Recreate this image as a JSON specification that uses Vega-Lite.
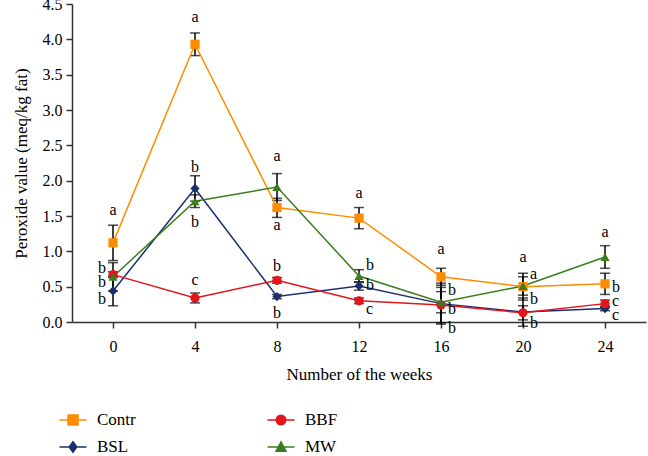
{
  "$schema": "https://vega.github.io/schema/vega-lite/v6.json",
  "autosize": {"type": "none"},
  "width": 574,
  "height": 318,
  "padding": {"left": 72, "top": 4, "right": 2, "bottom": 134},
  "background": "white",
  "config": {
    "view": {"stroke": null},
    "font": "Liberation Serif",
    "axis": {"labelFont": "Liberation Serif", "titleFont": "Liberation Serif", "labelFontSize": 16, "titleFontSize": 17, "titleFontWeight": "normal", "labelColor": "#000", "titleColor": "#000", "domainColor": "#333", "domainWidth": 1.5, "tickColor": "#333", "tickWidth": 1.5, "tickSize": 6, "grid": false, "labelOverlap": false},
    "legend": {"labelFont": "Liberation Serif", "labelFontSize": 17, "labelColor": "#000", "orient": "none", "title": null, "symbolSize": 400, "symbolStrokeWidth": 1.5, "symbolOpacity": 1, "labelOffset": 13}
  },
  "datasets": {
    "series": [
      {"week": 0, "group": "Contr", "value": 1.12, "lo": 0.87, "hi": 1.37},
      {"week": 4, "group": "Contr", "value": 3.93, "lo": 3.77, "hi": 4.09},
      {"week": 8, "group": "Contr", "value": 1.62, "lo": 1.48, "hi": 1.75},
      {"week": 12, "group": "Contr", "value": 1.47, "lo": 1.32, "hi": 1.62},
      {"week": 16, "group": "Contr", "value": 0.64, "lo": 0.52, "hi": 0.76},
      {"week": 20, "group": "Contr", "value": 0.50, "lo": 0.31, "hi": 0.69},
      {"week": 24, "group": "Contr", "value": 0.54, "lo": 0.39, "hi": 0.69},
      {"week": 0, "group": "BSL", "value": 0.44, "lo": 0.23, "hi": 0.65},
      {"week": 4, "group": "BSL", "value": 1.89, "lo": 1.71, "hi": 2.07},
      {"week": 8, "group": "BSL", "value": 0.36, "lo": 0.33, "hi": 0.39},
      {"week": 12, "group": "BSL", "value": 0.51, "lo": 0.45, "hi": 0.57},
      {"week": 16, "group": "BSL", "value": 0.26, "lo": -0.03, "hi": 0.55},
      {"week": 20, "group": "BSL", "value": 0.14, "lo": -0.06, "hi": 0.34},
      {"week": 24, "group": "BSL", "value": 0.19, "lo": 0.16, "hi": 0.22},
      {"week": 0, "group": "BBF", "value": 0.67, "lo": 0.63, "hi": 0.71},
      {"week": 4, "group": "BBF", "value": 0.34, "lo": 0.27, "hi": 0.41},
      {"week": 8, "group": "BBF", "value": 0.59, "lo": 0.55, "hi": 0.63},
      {"week": 12, "group": "BBF", "value": 0.30, "lo": 0.26, "hi": 0.34},
      {"week": 16, "group": "BBF", "value": 0.24, "lo": -0.01, "hi": 0.49},
      {"week": 20, "group": "BBF", "value": 0.13, "lo": 0.03, "hi": 0.23},
      {"week": 24, "group": "BBF", "value": 0.26, "lo": 0.21, "hi": 0.31},
      {"week": 0, "group": "MW", "value": 0.64, "lo": 0.44, "hi": 0.84},
      {"week": 4, "group": "MW", "value": 1.71, "lo": 1.62, "hi": 1.80},
      {"week": 8, "group": "MW", "value": 1.91, "lo": 1.72, "hi": 2.10},
      {"week": 12, "group": "MW", "value": 0.65, "lo": 0.56, "hi": 0.74},
      {"week": 16, "group": "MW", "value": 0.28, "lo": 0.13, "hi": 0.43},
      {"week": 20, "group": "MW", "value": 0.51, "lo": 0.38, "hi": 0.64},
      {"week": 24, "group": "MW", "value": 0.92, "lo": 0.76, "hi": 1.08}
    ],
    "labels": [
      {"week": 0, "pos": 1.59, "letter": "a", "side": "center"},
      {"week": 4, "pos": 4.32, "letter": "a", "side": "center"},
      {"week": 4, "pos": 2.20, "letter": "b", "side": "center"},
      {"week": 4, "pos": 1.42, "letter": "b", "side": "center"},
      {"week": 4, "pos": 0.60, "letter": "c", "side": "center"},
      {"week": 8, "pos": 2.35, "letter": "a", "side": "center"},
      {"week": 8, "pos": 1.37, "letter": "a", "side": "center"},
      {"week": 8, "pos": 0.79, "letter": "b", "side": "center"},
      {"week": 8, "pos": 0.13, "letter": "b", "side": "center"},
      {"week": 12, "pos": 1.83, "letter": "a", "side": "center"},
      {"week": 16, "pos": 1.04, "letter": "a", "side": "center"},
      {"week": 20, "pos": 0.92, "letter": "a", "side": "center"},
      {"week": 24, "pos": 1.27, "letter": "a", "side": "center"},
      {"week": 0, "pos": 0.76, "letter": "b", "side": "left"},
      {"week": 0, "pos": 0.56, "letter": "b", "side": "left"},
      {"week": 0, "pos": 0.32, "letter": "b", "side": "left"},
      {"week": 12, "pos": 0.80, "letter": "b", "side": "right"},
      {"week": 12, "pos": 0.52, "letter": "b", "side": "right"},
      {"week": 12, "pos": 0.19, "letter": "c", "side": "right"},
      {"week": 16, "pos": 0.45, "letter": "b", "side": "right"},
      {"week": 16, "pos": 0.18, "letter": "b", "side": "right"},
      {"week": 16, "pos": -0.09, "letter": "b", "side": "right"},
      {"week": 20, "pos": 0.68, "letter": "a", "side": "right"},
      {"week": 20, "pos": 0.32, "letter": "b", "side": "right"},
      {"week": 20, "pos": -0.01, "letter": "b", "side": "right"},
      {"week": 24, "pos": 0.49, "letter": "b", "side": "right"},
      {"week": 24, "pos": 0.30, "letter": "c", "side": "right"},
      {"week": 24, "pos": 0.10, "letter": "c", "side": "right"}
    ]
  },
  "encoding": {
    "x": {"field": "week", "type": "quantitative", "scale": {"domain": [-2, 26], "nice": false}, "axis": {"values": [0, 4, 8, 12, 16, 20, 24], "title": "Number of the weeks", "labelPadding": 10, "titlePadding": 12}}
  },
  "resolve": {"scale": {"shape": "independent"}, "legend": {"shape": "independent"}},
  "layer": [
    {
      "data": {"name": "series"},
      "mark": {"type": "rule", "color": "#000", "strokeWidth": 1.5},
      "encoding": {
        "y": {"field": "lo", "type": "quantitative", "scale": {"domain": [0, 4.5], "nice": false}, "axis": {"values": [0, 0.5, 1, 1.5, 2, 2.5, 3, 3.5, 4, 4.5], "format": ".1f", "title": "Peroxide value (meq/kg fat)", "labelPadding": 4, "titlePadding": 12}},
        "y2": {"field": "hi"}
      }
    },
    {
      "data": {"name": "series"},
      "mark": {"type": "tick", "orient": "horizontal", "color": "#000", "size": 10, "thickness": 1.5},
      "encoding": {"y": {"field": "lo", "type": "quantitative", "axis": {"values": [0, 0.5, 1, 1.5, 2, 2.5, 3, 3.5, 4, 4.5], "format": ".1f", "title": "Peroxide value (meq/kg fat)", "labelPadding": 4, "titlePadding": 12}}}
    },
    {
      "data": {"name": "series"},
      "mark": {"type": "tick", "orient": "horizontal", "color": "#000", "size": 10, "thickness": 1.5},
      "encoding": {"y": {"field": "hi", "type": "quantitative", "axis": {"values": [0, 0.5, 1, 1.5, 2, 2.5, 3, 3.5, 4, 4.5], "format": ".1f", "title": "Peroxide value (meq/kg fat)", "labelPadding": 4, "titlePadding": 12}}}
    },
    {
      "data": {"name": "series"},
      "mark": {"type": "line", "strokeWidth": 1.5},
      "encoding": {
        "y": {"field": "value", "type": "quantitative", "axis": {"values": [0, 0.5, 1, 1.5, 2, 2.5, 3, 3.5, 4, 4.5], "format": ".1f", "title": "Peroxide value (meq/kg fat)", "labelPadding": 4, "titlePadding": 12}},
        "color": {"field": "group", "type": "nominal", "scale": {"domain": ["Contr", "BSL", "BBF", "MW"], "range": ["#FF8C00", "#1A2E6E", "#E3151B", "#3A7D1E"]}, "legend": null}
      }
    },
    {
      "data": {"name": "series"},
      "mark": {"type": "point", "filled": true, "opacity": 1, "size": 85},
      "encoding": {
        "y": {"field": "value", "type": "quantitative", "axis": {"values": [0, 0.5, 1, 1.5, 2, 2.5, 3, 3.5, 4, 4.5], "format": ".1f", "title": "Peroxide value (meq/kg fat)", "labelPadding": 4, "titlePadding": 12}},
        "color": {"field": "group", "type": "nominal", "legend": null},
        "shape": {"field": "group", "type": "nominal", "scale": {"domain": ["Contr", "BSL", "BBF", "MW"], "range": ["square", "diamond", "circle", "triangle-up"]}, "legend": null}
      }
    },
    {
      "data": {"name": "series"},
      "transform": [{"filter": "datum.group === 'Contr'"}],
      "mark": {"type": "point", "filled": true, "opacity": 0, "size": 10, "color": "#FF8C00", "fill": "#FF8C00", "stroke": "#FF8C00", "strokeWidth": 1.5},
      "encoding": {
        "y": {"field": "value", "type": "quantitative", "axis": {"values": [0, 0.5, 1, 1.5, 2, 2.5, 3, 3.5, 4, 4.5], "format": ".1f", "title": "Peroxide value (meq/kg fat)", "labelPadding": 4, "titlePadding": 12}},
        "shape": {"field": "group", "type": "nominal", "scale": {"domain": ["Contr"], "range": ["M-1.35,0L1.35,0M-0.5,-0.5L0.5,-0.5L0.5,0.5L-0.5,0.5Z"]},
          "legend": {"legendX": -10, "legendY": 405}}
      }
    },
    {
      "data": {"name": "series"},
      "transform": [{"filter": "datum.group === 'BSL'"}],
      "mark": {"type": "point", "filled": true, "opacity": 0, "size": 10, "color": "#1A2E6E", "fill": "#1A2E6E", "stroke": "#1A2E6E", "strokeWidth": 1.5},
      "encoding": {
        "y": {"field": "value", "type": "quantitative", "axis": {"values": [0, 0.5, 1, 1.5, 2, 2.5, 3, 3.5, 4, 4.5], "format": ".1f", "title": "Peroxide value (meq/kg fat)", "labelPadding": 4, "titlePadding": 12}},
        "shape": {"field": "group", "type": "nominal", "scale": {"domain": ["BSL"], "range": ["M-1.35,0L1.35,0M0,-0.52L0.38,0L0,0.52L-0.38,0Z"]},
          "legend": {"legendX": -10, "legendY": 432}}
      }
    },
    {
      "data": {"name": "series"},
      "transform": [{"filter": "datum.group === 'BBF'"}],
      "mark": {"type": "point", "filled": true, "opacity": 0, "size": 10, "color": "#E3151B", "fill": "#E3151B", "stroke": "#E3151B", "strokeWidth": 1.5},
      "encoding": {
        "y": {"field": "value", "type": "quantitative", "axis": {"values": [0, 0.5, 1, 1.5, 2, 2.5, 3, 3.5, 4, 4.5], "format": ".1f", "title": "Peroxide value (meq/kg fat)", "labelPadding": 4, "titlePadding": 12}},
        "shape": {"field": "group", "type": "nominal", "scale": {"domain": ["BBF"], "range": ["M-1.35,0L1.35,0M-0.48,0A0.48,0.48 0 1,0 0.48,0A0.48,0.48 0 1,0 -0.48,0Z"]},
          "legend": {"legendX": 198, "legendY": 405}}
      }
    },
    {
      "data": {"name": "series"},
      "transform": [{"filter": "datum.group === 'MW'"}],
      "mark": {"type": "point", "filled": true, "opacity": 0, "size": 10, "color": "#3A7D1E", "fill": "#3A7D1E", "stroke": "#3A7D1E", "strokeWidth": 1.5},
      "encoding": {
        "y": {"field": "value", "type": "quantitative", "axis": {"values": [0, 0.5, 1, 1.5, 2, 2.5, 3, 3.5, 4, 4.5], "format": ".1f", "title": "Peroxide value (meq/kg fat)", "labelPadding": 4, "titlePadding": 12}},
        "shape": {"field": "group", "type": "nominal", "scale": {"domain": ["MW"], "range": ["M-1.35,0L1.35,0M0,-0.52L0.5,0.42L-0.5,0.42Z"]},
          "legend": {"legendX": 198, "legendY": 432}}
      }
    },
    {
      "data": {"name": "labels"},
      "transform": [{"filter": "datum.side === 'center'"}],
      "mark": {"type": "text", "align": "center", "baseline": "middle", "fontSize": 16, "font": "Liberation Serif", "color": "#000"},
      "encoding": {"y": {"field": "pos", "type": "quantitative", "axis": {"values": [0, 0.5, 1, 1.5, 2, 2.5, 3, 3.5, 4, 4.5], "format": ".1f", "title": "Peroxide value (meq/kg fat)", "labelPadding": 4, "titlePadding": 12}}, "text": {"field": "letter"}}
    },
    {
      "data": {"name": "labels"},
      "transform": [{"filter": "datum.side === 'right'"}],
      "mark": {"type": "text", "align": "left", "baseline": "middle", "dx": 7, "fontSize": 16, "font": "Liberation Serif", "color": "#000"},
      "encoding": {"y": {"field": "pos", "type": "quantitative", "axis": {"values": [0, 0.5, 1, 1.5, 2, 2.5, 3, 3.5, 4, 4.5], "format": ".1f", "title": "Peroxide value (meq/kg fat)", "labelPadding": 4, "titlePadding": 12}}, "text": {"field": "letter"}}
    },
    {
      "data": {"name": "labels"},
      "transform": [{"filter": "datum.side === 'left'"}],
      "mark": {"type": "text", "align": "right", "baseline": "middle", "dx": -7, "fontSize": 16, "font": "Liberation Serif", "color": "#000"},
      "encoding": {"y": {"field": "pos", "type": "quantitative", "axis": {"values": [0, 0.5, 1, 1.5, 2, 2.5, 3, 3.5, 4, 4.5], "format": ".1f", "title": "Peroxide value (meq/kg fat)", "labelPadding": 4, "titlePadding": 12}}, "text": {"field": "letter"}}
    }
  ]
}
